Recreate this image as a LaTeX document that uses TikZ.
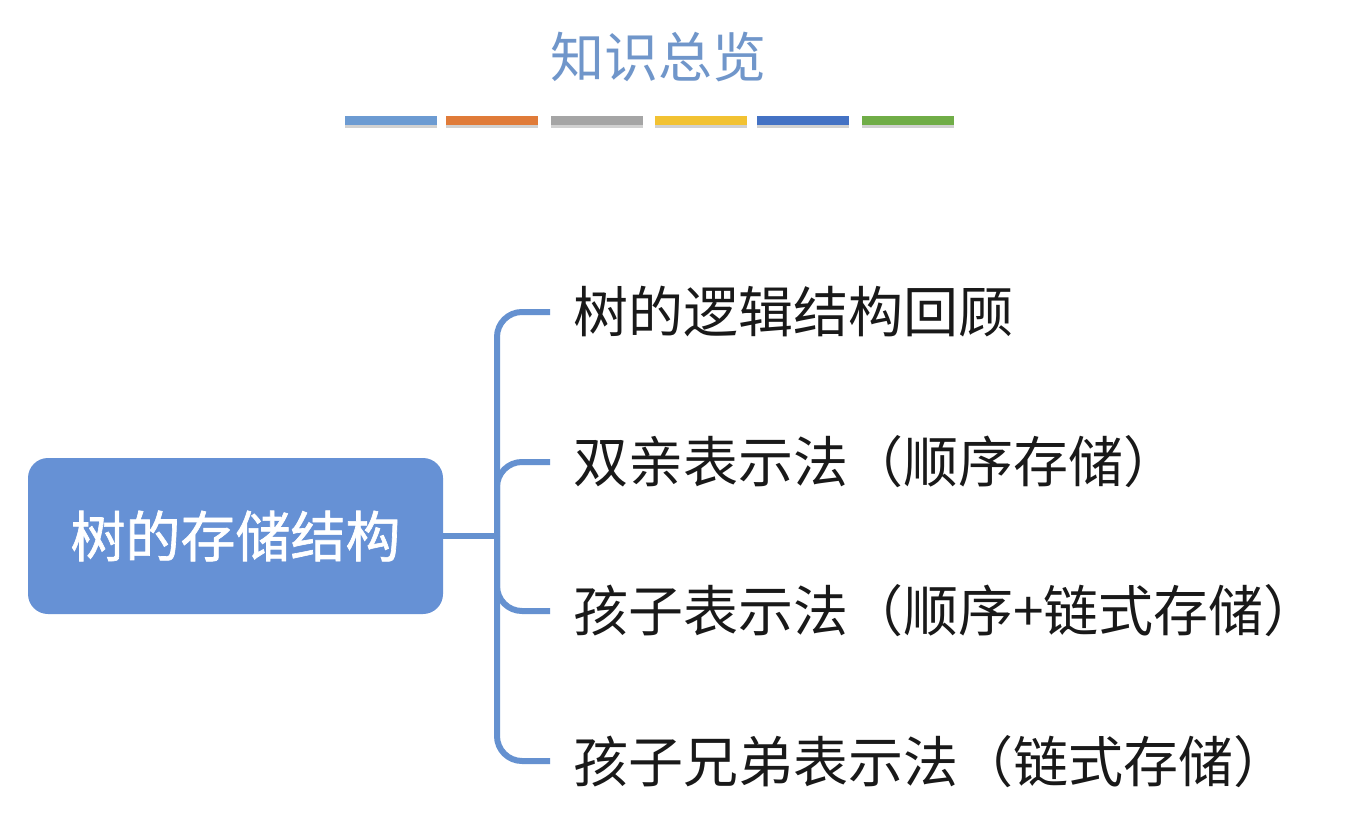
\documentclass[tikz,border=0pt]{standalone}
\usepackage{fontspec}
\newfontfamily\cjk{Noto Sans CJK SC}
\newfontfamily\cjkm[FakeBold=1.2]{Noto Sans CJK SC}
\definecolor{titleblue}{RGB}{112,150,202}
\definecolor{boxblue}{RGB}{102,145,213}
\definecolor{linkblue}{RGB}{101,145,208}
\definecolor{cA}{RGB}{108,155,210}
\definecolor{cB}{RGB}{224,123,57}
\definecolor{cC}{RGB}{165,165,165}
\definecolor{cD}{RGB}{242,194,50}
\definecolor{cE}{RGB}{68,114,196}
\definecolor{cF}{RGB}{112,173,71}
\definecolor{txt}{RGB}{25,25,25}
\begin{document}
\begin{tikzpicture}[x=1pt,y=-1pt,
  bar/.style={draw=none,inner sep=0,minimum width=92pt,minimum height=9pt},
  barshadow/.style={fill=black!18,draw=none,inner sep=0,minimum width=92pt,minimum height=4pt},
  item/.style={anchor=west,inner sep=0,text=txt,font=\cjk\fontsize{55}{60}\selectfont},
  conn/.style={draw=linkblue,line width=6pt,rounded corners=25pt}
]
\useasboundingbox[fill=white] (0,0) rectangle (1350,838);
\node[text=titleblue,inner sep=0,font=\cjk\fontsize{54}{60}\selectfont] (title) at (658,57) {知识总览};
% colour bars
\foreach \x/\c [count=\i] in {391/cA,492/cB,597/cC,701/cD,803/cE,908/cF}{
  \node[barshadow] (sh\i) at (\x,125.5) {};
  \node[bar,fill=\c] (bar\i) at (\x,120) {};
}
% main box
\node[fill=boxblue,rounded corners=20pt,minimum width=415pt,minimum height=156pt,inner sep=0,
  text=white,font=\cjkm\fontsize{55}{60}\selectfont] (root) at (235.5,536) {树的存储结构};
% items
\node[item] (t1) at (573,312) {树的逻辑结构回顾};
\node[item] (t2) at (573,462) {双亲表示法（顺序存储）};
\node[item] (t3) at (573,611) {孩子表示法（顺序+链式存储）};
\node[item] (t4) at (573,762) {孩子兄弟表示法（链式存储）};
% connectors
\coordinate (j) at (497,536);
\coordinate (e1) at (550,312);
\coordinate (e2) at (550,462);
\coordinate (e3) at (550,611);
\coordinate (e4) at (550,761);
\draw[conn] (root.east) -- (j);
\draw[conn] (e1) -| (j) |- (e4);
\draw[conn] (e2) -| (j);
\draw[conn] (e3) -| (j);
\end{tikzpicture}
\end{document}
